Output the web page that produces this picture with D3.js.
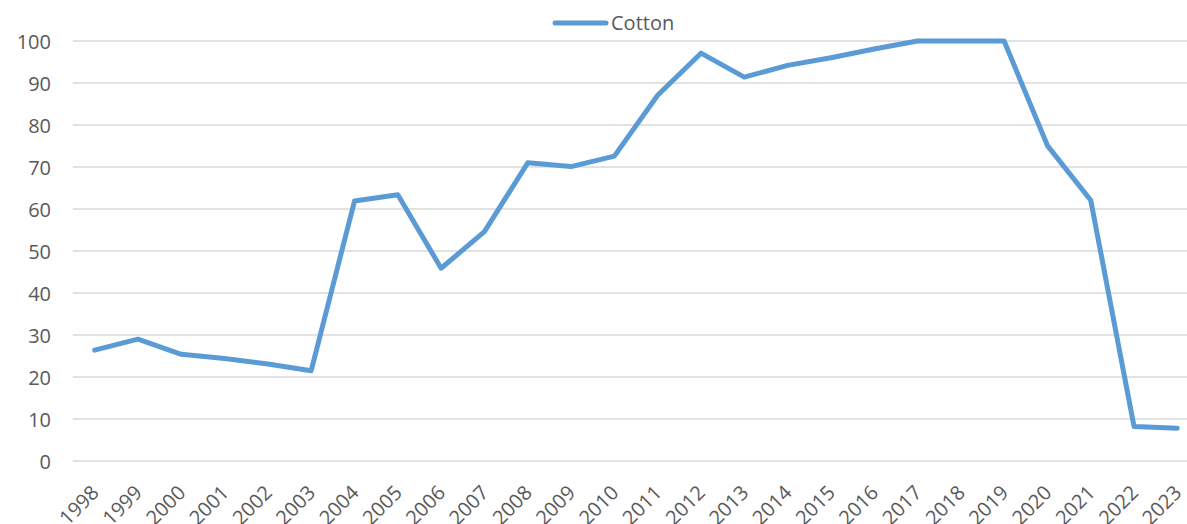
<!DOCTYPE html>
<html>
<head>
<meta charset="utf-8">
<script src="https://cdn.jsdelivr.net/npm/d3@7"></script>
<style>
  html, body { margin: 0; padding: 0; background: #fff; }
  svg { display: block; }
  text { font-family: "Open Sans", sans-serif; fill: #595959; }
</style>
</head>
<body>
<svg id="chart" width="1187" height="524"></svg>
<script>
const years = ["1998","1999","2000","2001","2002","2003","2004","2005","2006","2007","2008","2009","2010","2011","2012","2013","2014","2015","2016","2017","2018","2019","2020","2021","2022","2023"];
const cotton = [26.4, 29.0, 25.4, 24.4, 23.1, 21.5, 61.9, 63.4, 45.9, 54.6, 71.0, 70.1, 72.6, 87.1, 97.1, 91.4, 94.2, 96.0, 98.1, 100, 100, 100, 75.1, 62.1, 8.2, 7.8];
const yTicks = [0, 10, 20, 30, 40, 50, 60, 70, 80, 90, 100];
const seriesName = "Cotton";

const svg = d3.select("#chart");
const W = 1187, H = 524;
const plotLeft = 73, plotRight = 1199, plotTop = 41, plotBottom = 461;

const x = d3.scalePoint().domain(years).range([plotLeft, plotRight]).padding(0.5);
const y = d3.scaleLinear().domain([0, 100]).range([plotBottom, plotTop]);

// gridlines
svg.append("g")
  .selectAll("line")
  .data(yTicks)
  .join("line")
  .attr("x1", plotLeft).attr("x2", W)
  .attr("y1", d => y(d)).attr("y2", d => y(d))
  .attr("stroke", "#d9d9d9").attr("stroke-width", 1.5);

// y axis labels
const yAxis = d3.axisLeft(y).tickValues(yTicks).tickSize(0).tickPadding(0);
const gy = svg.append("g").attr("transform", `translate(51,0)`).call(yAxis);
gy.select(".domain").remove();
gy.selectAll("text")
  .style("font-family", "'Open Sans', sans-serif")
  .style("font-size", "20px")
  .attr("fill", "#595959")
  .attr("dy", "0.35em");

// x axis labels
const xAxis = d3.axisBottom(x).tickSize(0).tickPadding(0);
const gx = svg.append("g").attr("transform", `translate(0,${plotBottom})`).call(xAxis);
gx.select(".domain").remove();
gx.selectAll("text")
  .style("font-family", "'Open Sans', sans-serif")
  .style("font-size", "20px")
  .attr("fill", "#595959")
  .attr("text-anchor", "end")
  .attr("dy", 0)
  .attr("y", 0)
  .attr("transform", "translate(5,33) rotate(-45)");

// line
const line = d3.line()
  .x((d, i) => x(years[i]))
  .y(d => y(d));

svg.append("path")
  .datum(cotton)
  .attr("d", line)
  .attr("fill", "none")
  .attr("stroke", "#5b9bd5")
  .attr("stroke-width", 5)
  .attr("stroke-linejoin", "round")
  .attr("stroke-linecap", "round");

// legend
const lg = svg.append("g");
lg.append("line")
  .attr("x1", 555).attr("x2", 606)
  .attr("y1", 23).attr("y2", 23)
  .attr("stroke", "#5b9bd5").attr("stroke-width", 5)
  .attr("stroke-linecap", "round");
lg.append("text")
  .attr("x", 611).attr("y", 30)
  .style("font-size", "20px")
  .text(seriesName);
</script>
</body>
</html>
